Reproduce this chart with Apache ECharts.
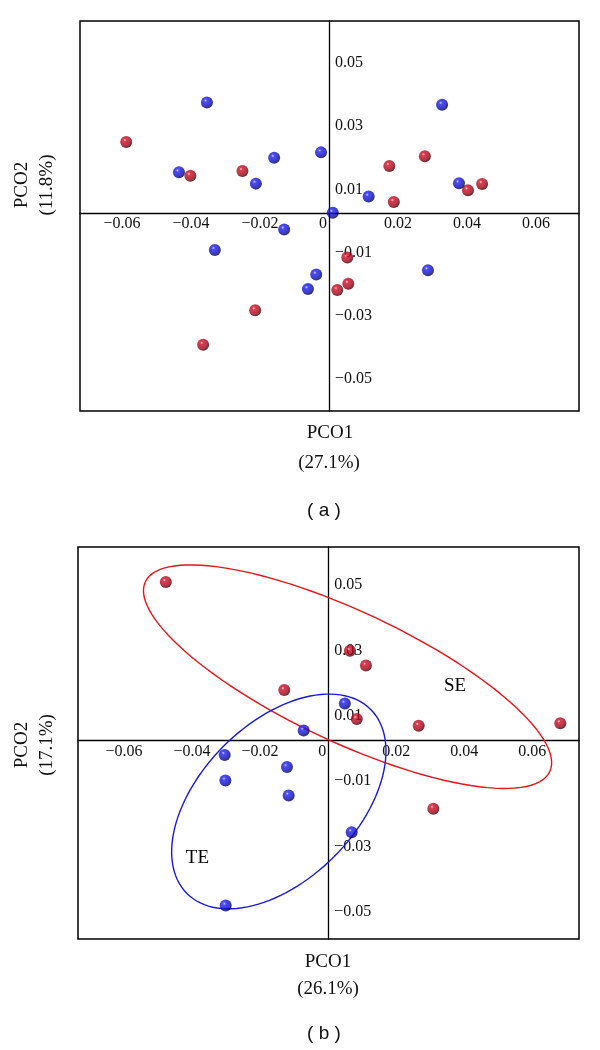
<!DOCTYPE html>
<html>
<head>
<meta charset="utf-8">
<script src="https://cdn.jsdelivr.net/npm/echarts@6/dist/echarts.min.js"></script>
<style>
  html, body { margin: 0; background: #fff; }
  #chart { width: 600px; height: 1050px; }
</style>
</head>
<body>
<div id="chart"></div>
<script>
// tick labels
const xTicks = [-0.06, -0.04, -0.02, 0, 0.02, 0.04, 0.06];
const yTicks = [-0.05, -0.03, -0.01, 0.01, 0.03, 0.05];

// panel (a) points [PCO1, PCO2]
const aBlue = [
  [-0.0354, 0.0350], [0.0328, 0.0343], [-0.0435, 0.0129], [-0.0159, 0.0175],
  [-0.0023, 0.0192], [-0.0212, 0.0093], [0.0377, 0.0094], [0.0115, 0.0052],
  [0.0011, 0.0001], [-0.0130, -0.0052], [-0.0331, -0.0117], [-0.0037, -0.0195],
  [-0.0061, -0.0241], [0.0287, -0.0181]
];
const aRed = [
  [-0.0588, 0.0225], [-0.0402, 0.0118], [-0.0251, 0.0133], [0.0175, 0.0149],
  [0.0278, 0.0180], [0.0188, 0.0035], [0.0403, 0.0072], [0.0444, 0.0092],
  [0.0053, -0.0141], [0.0056, -0.0224], [0.0024, -0.0244], [-0.0214, -0.0308],
  [-0.0365, -0.0417]
];

// panel (b) points
const bRed = [
  [-0.0477, 0.0484], [0.0064, 0.0274], [0.0111, 0.0229], [-0.0129, 0.0154],
  [0.0084, 0.0066], [0.0266, 0.0045], [0.0682, 0.0053], [0.0309, -0.0208]
];
const bBlue = [
  [0.0049, 0.0113], [-0.0072, 0.0031], [-0.0304, -0.0044], [-0.0121, -0.0081],
  [-0.0302, -0.0122], [-0.0116, -0.0168], [0.0069, -0.0280], [-0.0301, -0.0504]
];

// group ellipses: centre x, centre y, semi-axis 1 (dx, dy), semi-axis 2 (dx, dy)
const redEllipse = [0.0057, 0.0195, 0.0594, -0.0290, 0.0082, 0.0180];
const blueEllipse = [-0.0145, -0.0186, 0.0270, 0.0281, 0.0162, -0.0169];
const groupNames = ['SE', 'TE'];
const groupLabelPos = [[0.0373, 0.0165], [-0.0384, -0.0359]];

const serif = '"Liberation Serif", "DejaVu Serif", serif';

// plot boxes and axis ranges
const boxes = [
  { left: 80, top: 21, width: 499, height: 390, x: [-0.0722, 0.0725], y: [-0.0627, 0.0608] },
  { left: 78, top: 547, width: 501, height: 392, x: [-0.0735, 0.0737], y: [-0.0606, 0.0591] }
];

function sphere(c0, c1, c2, c3) {
  return new echarts.graphic.RadialGradient(0.38, 0.34, 0.66, [
    { offset: 0, color: c0 },
    { offset: 0.2, color: c1 },
    { offset: 0.7, color: c2 },
    { offset: 1, color: c3 }
  ]);
}
const redBall = sphere('#ffc8c8', '#d20c26', '#a0061a', '#3a0004');
const blueBall = sphere('#c8c8ff', '#2020f0', '#0c0cbc', '#03033a');

// axes drawn through the zero point, labels travelling with them
function xAxisFor(idx) {
  const b = boxes[idx];
  const zeroFromBottom = b.height * (-b.y[0]) / (b.y[1] - b.y[0]);
  return {
    type: 'value', gridIndex: idx, min: b.x[0], max: b.x[1],
    position: 'bottom', offset: -zeroFromBottom,
    axisLine: { onZero: false, lineStyle: { color: '#000', width: 1.3 } },
    axisTick: { show: false },
    splitLine: { show: false },
    axisLabel: {
      customValues: xTicks, margin: 3,
      fontFamily: serif, fontSize: 16, color: '#111',
      formatter: v => v === 0 ? '{z|0}' : (v < 0 ? '\u2212' + (-v).toFixed(2) : v.toFixed(2)),
      rich: { z: { fontFamily: serif, fontSize: 16, color: '#111', padding: [0, 12, 0, 0] } }
    }
  };
}
function yAxisFor(idx) {
  const b = boxes[idx];
  const zeroFromLeft = b.width * (-b.x[0]) / (b.x[1] - b.x[0]);
  return {
    type: 'value', gridIndex: idx, min: b.y[0], max: b.y[1],
    position: 'left', offset: -zeroFromLeft,
    axisLine: { onZero: false, lineStyle: { color: '#000', width: 1.3 } },
    axisTick: { show: false },
    splitLine: { show: false },
    axisLabel: {
      customValues: yTicks, inside: true, margin: 6, verticalAlign: 'top',
      fontFamily: serif, fontSize: 16, color: '#111',
      formatter: v => v < 0 ? '\u2212' + (-v).toFixed(2) : v.toFixed(2)
    }
  };
}

function pointSeries(idx, data, ball) {
  return {
    type: 'scatter', xAxisIndex: idx, yAxisIndex: idx, data: data,
    symbolSize: 12, itemStyle: { color: ball }, z: 5
  };
}

function ellipseSeries(e, color) {
  return {
    type: 'custom', xAxisIndex: 1, yAxisIndex: 1,
    data: [e], encode: { x: 0, y: 1 }, z: 3, silent: true,
    renderItem: function (params, api) {
      const pts = [];
      for (let k = 0; k <= 120; k++) {
        const t = Math.PI * 2 * k / 120;
        pts.push(api.coord([
          api.value(0) + api.value(2) * Math.cos(t) + api.value(4) * Math.sin(t),
          api.value(1) + api.value(3) * Math.cos(t) + api.value(5) * Math.sin(t)
        ]));
      }
      return {
        type: 'polyline', shape: { points: pts },
        style: { fill: null, stroke: color, lineWidth: 1.4 }
      };
    }
  };
}

function text(str, x, y, opts) {
  return Object.assign({
    type: 'text', x: x, y: y,
    style: {
      text: str, font: '19px ' + serif, fill: '#111',
      align: 'center', verticalAlign: 'middle',
      textAlign: 'center', textVerticalAlign: 'middle'
    }
  }, opts || {});
}
function sans(str, x, y) {
  const t = text(str, x, y);
  t.style.font = '19px "Liberation Sans", Arial, sans-serif';
  return t;
}

const chart = echarts.init(document.getElementById('chart'));
chart.setOption({
  backgroundColor: '#fff',
  animation: false,
  grid: boxes.map(b => ({
    left: b.left, top: b.top, width: b.width, height: b.height,
    show: true, borderColor: '#000', borderWidth: 1.5
  })),
  xAxis: [xAxisFor(0), xAxisFor(1)],
  yAxis: [yAxisFor(0), yAxisFor(1)],
  series: [
    pointSeries(0, aRed, redBall),
    pointSeries(0, aBlue, blueBall),
    ellipseSeries(redEllipse, '#e8141c'),
    ellipseSeries(blueEllipse, '#1a1ae0'),
    pointSeries(1, bRed, redBall),
    pointSeries(1, bBlue, blueBall),
    {
      type: 'custom', xAxisIndex: 1, yAxisIndex: 1, silent: true, z: 4,
      data: groupLabelPos, encode: { x: 0, y: 1 },
      renderItem: function (params, api) {
        const p = api.coord([api.value(0), api.value(1)]);
        return {
          type: 'text', x: p[0], y: p[1],
          style: {
            text: groupNames[params.dataIndex], font: '19px ' + serif, fill: '#000',
            align: 'center', verticalAlign: 'middle'
          }
        };
      }
    }
  ],
  graphic: [
    text('PCO1', 330, 433),
    text('(27.1%)', 329, 463),
    sans('( a )', 324, 511),
    text('PCO2', 22, 185, { rotation: Math.PI / 2 }),
    text('(11.8%)', 47, 185, { rotation: Math.PI / 2 }),
    text('PCO1', 328, 962),
    text('(26.1%)', 328, 989),
    sans('( b )', 324, 1034),
    text('PCO2', 22, 745, { rotation: Math.PI / 2 }),
    text('(17.1%)', 47, 745, { rotation: Math.PI / 2 })
  ]
});
</script>
</body>
</html>
